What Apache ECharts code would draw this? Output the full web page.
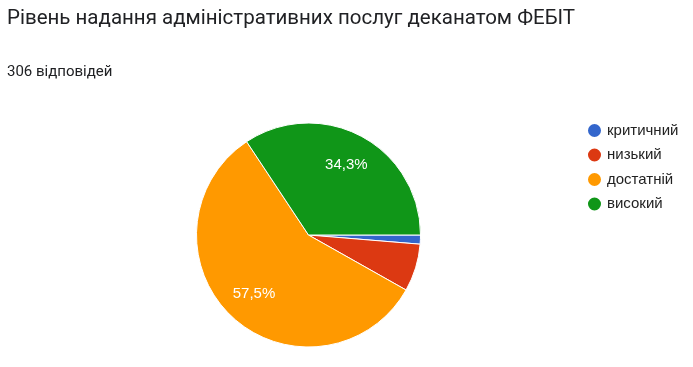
<!DOCTYPE html>
<html><head><meta charset="utf-8">
<script src="https://cdn.jsdelivr.net/npm/echarts@6/dist/echarts.min.js"></script>
<style>html,body{margin:0;padding:0;background:#fff}#c{width:693px;height:367px}</style>
</head><body><div id="c"></div>
<script>
const categories = ['критичний', 'низький', 'достатній', 'високий'];
const counts = [4, 21, 176, 105];
const colors = ['#3366cc', '#dc3912', '#ff9900', '#109618'];
const titleText = 'Рівень надання адміністративних послуг деканатом ФЕБІТ';
const subText = '306 відповідей';

const data = categories.map((n, i) => ({ name: n, value: counts[i] }));
const total = counts.reduce((a, b) => a + b, 0);
const fmt = p => p.value / total >= 0.1 ? (p.value / total * 100).toFixed(1).replace('.', ',') + '%' : '';

const chart = echarts.init(document.getElementById('c'));
chart.setOption({
  animation: false,
  color: colors,
  title: [
    { text: titleText, left: 2, top: 3, textStyle: { fontFamily: 'Roboto', fontSize: 20.5, fontWeight: 'normal', color: '#202124' } },
    { text: subText, left: 2, top: 60, textStyle: { fontFamily: 'Roboto', fontSize: 15, fontWeight: 'normal', color: '#202124' } }
  ],
  legend: {
    orient: 'vertical', left: 581, top: 117, itemGap: 7.5,
    icon: 'circle', itemWidth: 15, itemHeight: 15,
    textStyle: { fontFamily: 'Arial, "Liberation Sans"', fontSize: 15, color: '#222' },
    data: categories
  },
  series: [
    {
      type: 'pie', center: [308.5, 235], radius: [0, 112],
      startAngle: 0, clockwise: true,
      data: data,
      itemStyle: { borderColor: '#fff', borderWidth: 1 },
      label: { show: false }, labelLine: { show: false },
      emphasis: { disabled: true }
    },
    {
      type: 'pie', center: [308.5, 235], radius: [0, 154],
      startAngle: 0, clockwise: true, silent: true,
      data: data,
      itemStyle: { color: 'rgba(0,0,0,0)' },
      label: { show: true, position: 'inside', formatter: fmt, fontFamily: 'Arial, "Liberation Sans"', fontSize: 15, color: '#fff' },
      labelLine: { show: false },
      emphasis: { disabled: true }
    }
  ]
});
</script></body></html>
